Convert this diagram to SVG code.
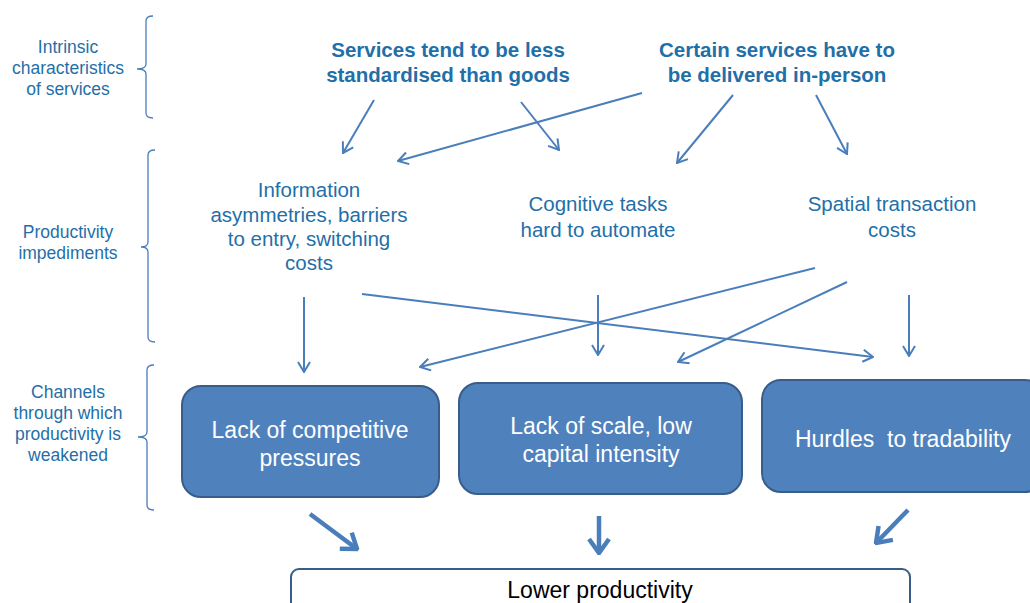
<svg xmlns="http://www.w3.org/2000/svg" width="1030" height="603" viewBox="0 0 1030 603">
<style>
.lbl{font-family:"Liberation Sans",Arial,sans-serif;font-size:17.5px;fill:#1f6fa8;text-anchor:middle}
.hd{font-family:"Liberation Sans",Arial,sans-serif;font-size:20.5px;font-weight:bold;fill:#1f6fa8;text-anchor:middle}
.mid{font-family:"Liberation Sans",Arial,sans-serif;font-size:20.5px;fill:#1f6fa8;text-anchor:middle}
.bt{font-family:"Liberation Sans",Arial,sans-serif;font-size:23px;fill:#ffffff;text-anchor:middle}
.box{fill:#4f81bd;stroke:#385d8a;stroke-width:2}
.brace{fill:none;stroke:#4a7ebb;stroke-width:1.3}
.thin{fill:none;stroke:#4a7ebb;stroke-width:2;marker-end:url(#ah)}
.thick{fill:none;stroke:#4a7ebb;stroke-width:4.5;marker-end:url(#ahb)}
</style>
<defs>
<marker id="ah" markerUnits="userSpaceOnUse" viewBox="0 0 12 14" refX="11" refY="7" markerWidth="12" markerHeight="14" orient="auto">
<path d="M1,1 L11,7 L1,13" fill="none" stroke="#4a7ebb" stroke-width="2"/>
</marker>
<marker id="ahb" markerUnits="userSpaceOnUse" viewBox="0 0 18 24" refX="16" refY="12" markerWidth="18" markerHeight="24" orient="auto">
<path d="M2,2 L16,12 L2,22" fill="none" stroke="#4a7ebb" stroke-width="4.5"/>
</marker>
</defs>
<rect width="1030" height="603" fill="#ffffff"/>

<g id="brace-intrinsic">
<path class="brace" d="M153,16 Q146,16 146,21 L146,64 Q146,69 137,69 Q146,69 146,74 L146,113 Q146,118 153,118"/>
<text class="lbl" x="68" y="53">Intrinsic</text>
<text class="lbl" x="68" y="74">characteristics</text>
<text class="lbl" x="68" y="95">of services</text>
</g>
<g id="brace-impediments">
<path class="brace" d="M155,150 Q148,150 148,155 L148,242 Q148,247 141,247 Q148,247 148,252 L148,337 Q148,342 155,342"/>
<text class="lbl" x="68" y="238">Productivity</text>
<text class="lbl" x="68" y="259">impediments</text>
</g>
<g id="brace-channels">
<path class="brace" d="M154,365 Q147,365 147,370 L147,432 Q147,437 138,437 Q147,437 147,442 L147,505 Q147,510 154,510"/>
<text class="lbl" x="68" y="398">Channels</text>
<text class="lbl" x="68" y="419">through which</text>
<text class="lbl" x="68" y="440">productivity is</text>
<text class="lbl" x="68" y="461">weakened</text>
</g>

<g id="heading-standardised">
<text class="hd" x="448" y="57">Services tend to be less</text>
<text class="hd" x="448" y="82">standardised than goods</text>
</g>
<g id="heading-inperson">
<text class="hd" x="777" y="57">Certain services have to</text>
<text class="hd" x="777" y="82">be delivered in-person</text>
</g>

<g id="imp-information">
<text class="mid" x="309" y="197">Information</text>
<text class="mid" x="309" y="222">asymmetries, barriers</text>
<text class="mid" x="309" y="246">to entry, switching</text>
<text class="mid" x="309" y="270">costs</text>
</g>
<g id="imp-cognitive">
<text class="mid" x="598" y="211">Cognitive tasks</text>
<text class="mid" x="598" y="237">hard to automate</text>
</g>
<g id="imp-spatial">
<text class="mid" x="892" y="211">Spatial transaction</text>
<text class="mid" x="892" y="237">costs</text>
</g>

<g id="ch-competitive">
<rect class="box" x="182" y="386" width="257" height="111" rx="19"/>
<text class="bt" x="310" y="438">Lack of competitive</text>
<text class="bt" x="310" y="466">pressures</text>
</g>
<g id="ch-scale">
<rect class="box" x="459" y="383" width="283" height="111" rx="19"/>
<text class="bt" x="601" y="434">Lack of scale, low</text>
<text class="bt" x="601" y="462">capital intensity</text>
</g>
<g id="ch-tradability">
<rect class="box" x="762" y="380" width="282" height="112" rx="19"/>
<text class="bt" x="903" y="447">Hurdles&#160; to tradability</text>
</g>

<g id="lower-productivity">
<rect x="291" y="569" width="619" height="60" rx="8" fill="#ffffff" stroke="#385d8a" stroke-width="2"/>
<text x="600" y="598" font-family="Liberation Sans, Arial, sans-serif" font-size="23" fill="#000000" text-anchor="middle">Lower productivity</text>
</g>

<g id="connectors">
<line class="thin" x1="374" y1="100" x2="343" y2="153"/>
<line class="thin" x1="521" y1="102" x2="559" y2="150"/>
<line class="thin" x1="642" y1="93" x2="398" y2="161"/>
<line class="thin" x1="733" y1="95" x2="677" y2="163"/>
<line class="thin" x1="816" y1="95" x2="847" y2="154"/>
<line class="thin" x1="304" y1="297" x2="304" y2="372"/>
<line class="thin" x1="362" y1="294" x2="873" y2="357"/>
<line class="thin" x1="815" y1="268" x2="420" y2="367"/>
<line class="thin" x1="598" y1="295" x2="598" y2="355"/>
<line class="thin" x1="847" y1="282" x2="678" y2="362"/>
<line class="thin" x1="909" y1="295" x2="909" y2="356"/>
<line class="thick" x1="310" y1="514" x2="357" y2="549"/>
<line class="thick" x1="599" y1="516" x2="599" y2="553"/>
<line class="thick" x1="908" y1="510" x2="876" y2="543"/>
</g>
</svg>
